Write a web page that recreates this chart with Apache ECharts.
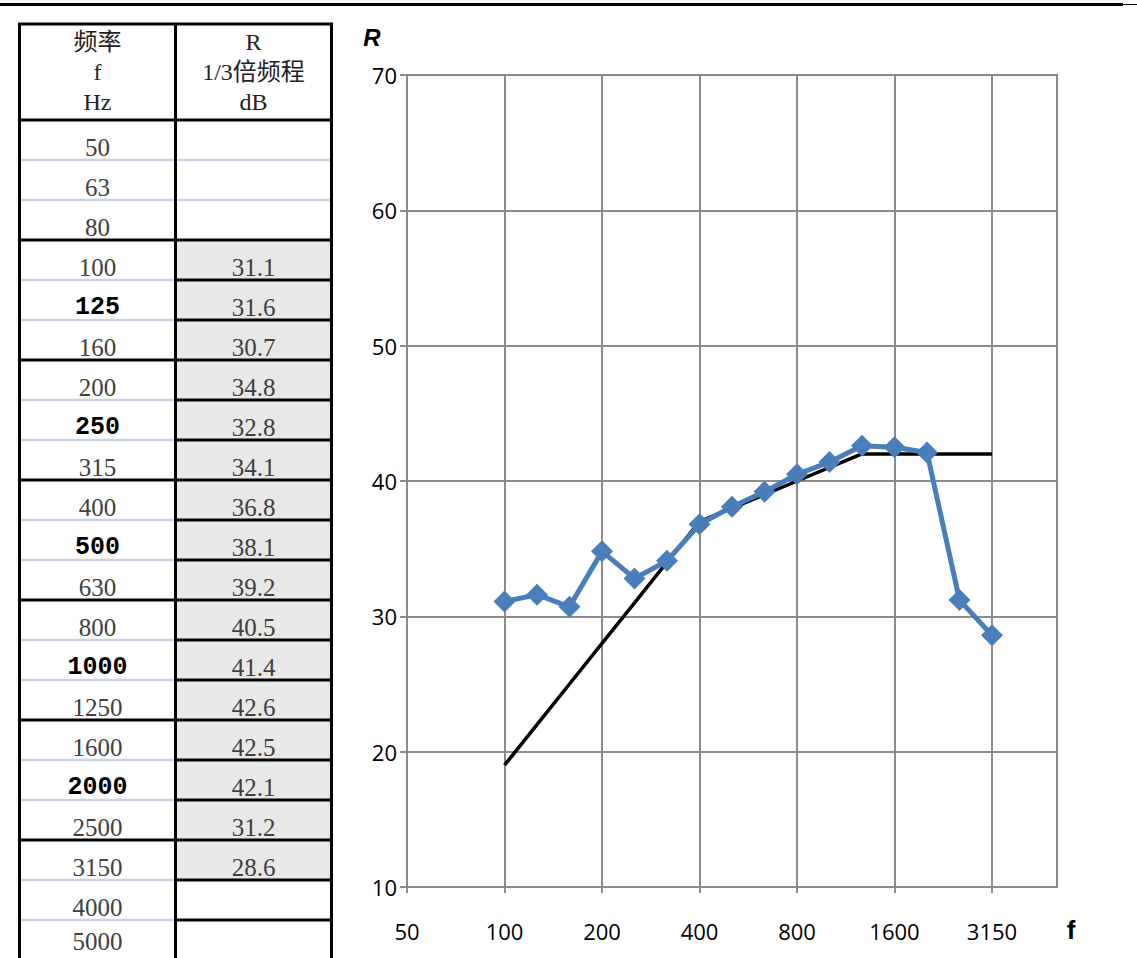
<!DOCTYPE html>
<html>
<head>
<meta charset="utf-8">
<script src="https://cdn.jsdelivr.net/npm/echarts@6/dist/echarts.min.js"></script>
<style>
html,body{margin:0;padding:0;background:#fff;}
#main{width:1137px;height:958px;}
</style>
</head>
<body>
<div id="main"></div>
<script>
// ---- data ----
const freqs = ['50','63','80','100','125','160','200','250','315','400','500','630','800','1000','1250','1600','2000','2500','3150','4000','5000'];
const measuredR = [null,null,null,31.1,31.6,30.7,34.8,32.8,34.1,36.8,38.1,39.2,40.5,41.4,42.6,42.5,42.1,31.2,28.6,null,null];
const referenceCurve = [null,null,null,19,22,25,28,31,34,37,38,39,40,41,42,42,42,42,42,null,null];
const boldFreqs = ['125','250','500','1000','2000'];
const headerFreq = ['频率','f','Hz'];
const headerR = ['R','1/3倍频程','dB'];
const yMin = 10, yMax = 70, yStep = 10;

// ---- table (graphic) ----
const TL = 19.5, TM = 175.5, TR = 331.5;
const headTop = 24, headBottom = 120, rowH = 40;
const gridGray = '#8c8c8c';
const lightBlue = '#c8d4e6';
const g = [];

// top rule
g.push({type:'line', shape:{x1:0,y1:4.5,x2:1123,y2:4.5}, style:{stroke:'#000',lineWidth:3}});
g.push({type:'line', shape:{x1:1123,y1:4.5,x2:1137,y2:4.5}, style:{stroke:'#000',lineWidth:1}});

// shaded cells
freqs.forEach((f,i)=>{
  if(measuredR[i]!==null){
    g.push({type:'rect', shape:{x:TM+1.5,y:headBottom+i*rowH,width:TR-TM-3,height:rowH}, style:{fill:'#e8e8e8'}});
  }
});
// light blue separators
for(let i=1;i<freqs.length;i++){
  const y = headBottom + i*rowH;
  if(i%3!==0){
    g.push({type:'line', shape:{x1:TL+1.5,y1:y,x2:TM-1.5,y2:y}, style:{stroke:lightBlue,lineWidth:2.5}});
  }
  if(i<3){
    g.push({type:'line', shape:{x1:TM+1.5,y1:y,x2:TR-1.5,y2:y}, style:{stroke:lightBlue,lineWidth:2.5}});
  }
}
// black separators
for(let i=1;i<freqs.length;i++){
  const y = headBottom + i*rowH;
  if(i%3===0){
    g.push({type:'line', shape:{x1:TL,y1:y,x2:TM,y2:y}, style:{stroke:'#000',lineWidth:3}});
  }
  if(i>=3){
    g.push({type:'line', shape:{x1:TM,y1:y,x2:TR,y2:y}, style:{stroke:'#000',lineWidth:3}});
  }
}
g.push({type:'line', shape:{x1:TL-1.5,y1:headTop,x2:TR+1.5,y2:headTop}, style:{stroke:'#000',lineWidth:3}});
g.push({type:'line', shape:{x1:TL,y1:headBottom,x2:TR,y2:headBottom}, style:{stroke:'#000',lineWidth:3}});
[TL,TM,TR].forEach(x=>{
  g.push({type:'line', shape:{x1:x,y1:headTop,x2:x,y2:962}, style:{stroke:'#000',lineWidth:3}});
});
// header text
const c1 = (TL+TM)/2, c2 = (TM+TR)/2;
const headY = [42,72,102];
headerFreq.forEach((t,k)=>{
  g.push({type:'text', style:{text:t,x:c1,y:headY[k],textAlign:'center',textVerticalAlign:'middle',
    font:'24px "Liberation Serif","Noto Sans CJK SC",serif',fill:'#222'}});
});
headerR.forEach((t,k)=>{
  g.push({type:'text', style:{text:t,x:c2,y:headY[k],textAlign:'center',textVerticalAlign:'middle',
    font:'24px "Liberation Serif","Noto Sans CJK SC",serif',fill:'#222'}});
});
// row text
freqs.forEach((f,i)=>{
  const off = (i===freqs.length-1) ? 21 : 27;
  const y = headBottom + i*rowH + off;
  const bold = boldFreqs.indexOf(f)>=0;
  g.push({type:'text', style:{text:f,x:c1,y:y,textAlign:'center',textVerticalAlign:'middle',
    font: bold ? 'bold 25px "Liberation Mono",monospace' : '25px "Liberation Serif",serif',
    fill: bold ? '#000' : '#404040'}});
  if(measuredR[i]!==null){
    g.push({type:'text', style:{text:measuredR[i].toFixed(1),x:c2,y:y,textAlign:'center',textVerticalAlign:'middle',
      font:'25px "Liberation Serif",serif',fill:'#404040'}});
  }
});
// axis titles
g.push({type:'text', style:{text:'R',x:372,y:37,textAlign:'center',textVerticalAlign:'middle',
  font:'italic bold 24px "Liberation Sans",Arial,sans-serif',fill:'#000'}});
g.push({type:'text', style:{text:'f',x:1071,y:930,textAlign:'center',textVerticalAlign:'middle',
  font:'bold 26px "Liberation Sans",Arial,sans-serif',fill:'#000'}});

const chart = echarts.init(document.getElementById('main'), null, {renderer:'svg'});
chart.setOption({
  animation:false,
  backgroundColor:'#fff',
  grid:{left:407, top:75, width:650, height:812, show:true, borderColor:gridGray, borderWidth:2, backgroundColor:'transparent'},
  xAxis:{
    type:'category', data:freqs, boundaryGap:false,
    axisLine:{show:true, lineStyle:{color:gridGray,width:2}},
    axisTick:{show:true, interval:2, length:6, lineStyle:{color:gridGray,width:2}},
    axisLabel:{interval:2, margin:33, fontSize:22, fontFamily:'"Open Sans",sans-serif', color:'#000'},
    splitLine:{show:true, interval:2, lineStyle:{color:gridGray,width:2}}
  },
  yAxis:{
    type:'value', min:yMin, max:yMax, interval:yStep,
    axisLine:{show:true, lineStyle:{color:gridGray,width:2}},
    axisTick:{show:true, length:7, lineStyle:{color:gridGray,width:2}},
    axisLabel:{margin:10, fontSize:22, fontFamily:'"Open Sans",sans-serif', color:'#000'},
    splitLine:{show:true, lineStyle:{color:gridGray,width:2}}
  },
  series:[
    {name:'参考曲线', type:'line', data:referenceCurve, showSymbol:false, symbol:'none',
     lineStyle:{color:'#000',width:3.5}, z:2},
    {name:'R', type:'line', data:measuredR, symbol:'diamond', symbolSize:22, showSymbol:true, showAllSymbol:true,
     itemStyle:{color:'#4a7ebb'}, lineStyle:{color:'#4a7ebb',width:5}, z:3}
  ],
  graphic:g
});
</script>
</body>
</html>
